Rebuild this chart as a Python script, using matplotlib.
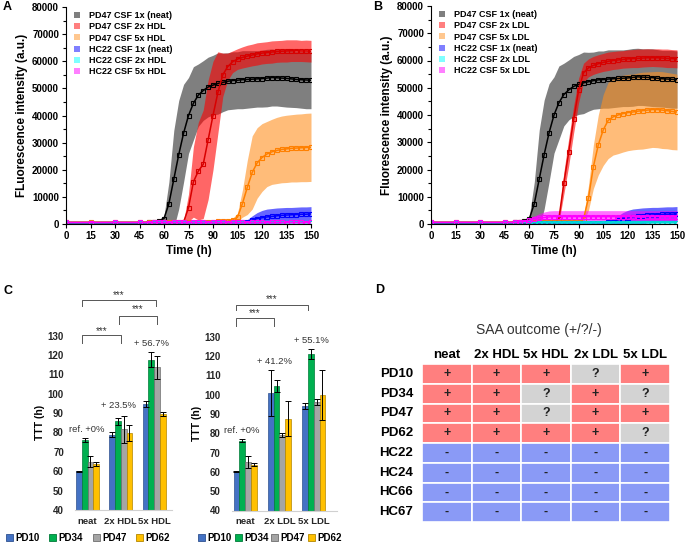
import numpy as np
import matplotlib
matplotlib.use('Agg')
import matplotlib.pyplot as plt
from matplotlib.lines import Line2D
from matplotlib.patches import Patch, Rectangle

plt.rcParams['font.family'] = ['Liberation Sans', 'DejaVu Sans']
plt.rcParams['font.weight'] = 'bold'
plt.rcParams['axes.labelweight'] = 'bold'

# ---------------- data: RT-QuIC kinetics (A, B) ----------------
t_h = [0, 15, 30, 45, 51, 54, 57, 60, 63, 66, 69, 72, 75, 78, 81, 84, 87, 90, 93,
       96, 99, 102, 105, 108, 111, 114, 117, 120, 123, 126, 129, 132, 135, 138,
       141, 144, 147, 150]

pd47_neat_mean = [500, 500, 500, 500, 600, 800, 1200, 2000, 7500, 16500, 25500, 33500,
                  40000, 44500, 47500, 49200, 50500, 51200, 51800, 52200, 52600, 52900,
                  53000, 53200, 53300, 53400, 53500, 53600, 53800, 54000, 53900, 53800,
                  53700, 53500, 53300, 53200, 53100, 53000]
pd47_neat_sd = [200, 200, 200, 200, 250, 300, 500, 1000, 8000, 18000, 20000, 18000,
                14000, 13500, 11500, 11000, 11000, 11000, 11300, 10800, 10500, 10600,
                10500, 10700, 10600, 10500, 10400, 10500, 10600, 10500, 10400, 10500,
                10600, 10500, 10400, 10500, 10600, 10500]

pd47_2xhdl_mean = [500, 500, 500, 500, 500, 500, 500, 500, 500, 500, 500, 700,
                   6000, 15500, 19500, 22000, 31000, 40000, 48500, 55000, 58000, 59800,
                   60800, 61400, 61900, 62300, 62700, 63000, 63200, 63400, 63600, 63700,
                   63800, 63900, 63900, 63800, 63800, 63700]
pd47_2xhdl_sd = [200, 200, 200, 200, 200, 200, 200, 200, 200, 200, 200, 500,
                 5000, 13000, 18000, 20000, 22000, 20000, 15000, 8000, 5000, 4000,
                 3800, 3900, 4000, 4000, 4100, 4000, 4000, 4100, 4000, 4000,
                 4100, 4000, 4000, 3900, 4000, 4000]

pd47_5xhdl_mean = [700, 700, 700, 700, 700, 700, 700, 700, 700, 700, 700, 750,
                   800, 800, 850, 850, 900, 900, 950, 1000, 1100, 1500,
                   2500, 7500, 13500, 19000, 22500, 24500, 25800, 26600, 27100, 27500,
                   27700, 27900, 28000, 28100, 28200, 28300]
pd47_5xhdl_sd = [200, 200, 200, 200, 200, 200, 200, 200, 200, 200, 200, 200,
                 200, 200, 200, 200, 200, 250, 250, 250, 300, 600,
                 1500, 5000, 10000, 13500, 13000, 12500, 12000, 12000, 12200, 12300,
                 12400, 12400, 12500, 12500, 12600, 12600]

hc22_neat_mean = [500, 500, 500, 500, 500, 500, 500, 500, 500, 500, 500, 500,
                  500, 500, 500, 500, 500, 500, 500, 500, 500, 500,
                  500, 600, 900, 1500, 2000, 2300, 2600, 2800, 3000, 3200,
                  3300, 3400, 3500, 3600, 3600, 3700]
hc22_neat_sd = [150, 150, 150, 150, 150, 150, 150, 150, 150, 150, 150, 150,
                150, 150, 150, 150, 150, 150, 150, 150, 150, 150,
                150, 300, 700, 1500, 2200, 2700, 2900, 2900, 2900, 2800,
                2800, 2700, 2700, 2700, 2700, 2700]

hc22_2xhdl_mean = [480, 470, 490, 480, 470, 480, 490, 480, 470, 480, 490, 480,
                   470, 480, 490, 480, 470, 480, 490, 480, 470, 480,
                   490, 480, 470, 480, 490, 480, 470, 480, 490, 480,
                   470, 480, 490, 480, 470, 480]
hc22_2xhdl_sd = [150, 150, 150, 150, 150, 150, 150, 150, 150, 150, 150, 150,
                 150, 150, 150, 150, 150, 150, 150, 150, 150, 150,
                 150, 150, 150, 150, 150, 150, 150, 150, 150, 150,
                 150, 150, 150, 150, 150, 150]

hc22_5xhdl_mean = [560, 550, 570, 560, 550, 560, 570, 560, 550, 560, 570, 560,
                   550, 560, 570, 560, 550, 560, 570, 560, 550, 560,
                   570, 560, 550, 560, 570, 560, 550, 560, 570, 560,
                   550, 560, 570, 560, 550, 560]
hc22_5xhdl_sd = [150, 150, 150, 150, 150, 150, 150, 150, 150, 150, 150, 150,
                 150, 150, 150, 150, 150, 150, 150, 150, 150, 150,
                 150, 150, 150, 150, 150, 150, 150, 150, 150, 150,
                 150, 150, 150, 150, 150, 150]

pd47_2xldl_mean = [500, 500, 500, 500, 500, 500, 500, 500, 500, 500, 500, 500,
                   600, 2000, 15000, 26500, 38500, 49000, 55500, 57300, 58200, 58800,
                   59300, 59700, 60000, 60200, 60400, 60600, 60700, 60800, 60900, 61000,
                   61000, 61000, 60900, 60800, 60700, 60600]
pd47_2xldl_sd = [200, 200, 200, 200, 200, 200, 200, 200, 200, 200, 200, 200,
                 300, 1500, 4000, 5000, 5000, 4500, 3500, 3300, 3300, 3300,
                 3300, 3400, 3300, 3300, 3200, 3300, 3300, 3400, 3300, 3300,
                 3200, 3300, 3300, 3400, 3300, 3300]

pd47_5xldl_mean = [700, 700, 700, 700, 700, 700, 700, 700, 700, 700, 700, 700,
                   700, 700, 700, 700, 700, 750, 1800, 9500, 21000, 29000,
                   34500, 38000, 39300, 40000, 40500, 40900, 41100, 41400, 41600, 41800,
                   42000, 42000, 41800, 41600, 41300, 41100]
pd47_5xldl_sd = [200, 200, 200, 200, 200, 200, 200, 200, 200, 200, 200, 200,
                 200, 200, 200, 200, 200, 250, 1000, 4500, 8000, 11000,
                 13000, 14000, 14000, 14200, 14100, 14000, 13900, 14000, 14100, 14000,
                 13900, 14000, 14100, 14000, 14000, 13900]

hc22_2xldl_mean = [480, 490, 480, 470, 480, 490, 480, 470, 480, 490, 480, 470,
                   480, 490, 480, 470, 480, 490, 480, 470, 480, 490,
                   480, 470, 480, 490, 480, 470, 480, 490, 480, 470,
                   480, 490, 480, 470, 480, 490]
hc22_2xldl_sd = [150, 150, 150, 150, 150, 150, 150, 150, 150, 150, 150, 150,
                 150, 150, 150, 150, 150, 150, 150, 150, 150, 150,
                 150, 150, 150, 150, 150, 150, 150, 150, 150, 150,
                 150, 150, 150, 150, 150, 150]

hc22_5xldl_mean = [600, 600, 600, 600, 600, 700, 900, 1300, 1700, 2100, 2400, 2600,
                   2700, 2700, 2700, 2700, 2700, 2700, 2700, 2700, 2700, 2700,
                   2700, 2700, 2700, 2700, 2700, 2700, 2700, 2700, 2700, 2700,
                   2700, 2700, 2700, 2700, 2700, 2700]
hc22_5xldl_sd = [200, 200, 200, 200, 200, 300, 500, 900, 1300, 1700, 2000, 2200,
                 2200, 2200, 2200, 2200, 2200, 2200, 2200, 2200, 2200, 2200,
                 2200, 2200, 2200, 2200, 2200, 2200, 2200, 2200, 2200, 2200,
                 2200, 2200, 2200, 2200, 2200, 2200]

labels_hdl = ['PD47 CSF 1x (neat)', 'PD47 CSF 2x HDL', 'PD47 CSF 5x HDL',
              'HC22 CSF 1x (neat)', 'HC22 CSF 2x HDL', 'HC22 CSF 5x HDL']
labels_ldl = ['PD47 CSF 1x (neat)', 'PD47 CSF 2x LDL', 'PD47 CSF 5x LDL',
              'HC22 CSF 1x (neat)', 'HC22 CSF 2x LDL', 'HC22 CSF 5x LDL']

# ---------------- data: TTT bars (C) ----------------
samples = ['PD10', 'PD34', 'PD47', 'PD62']
cats_hdl = ['neat', '2x HDL', '5x HDL']
cats_ldl = ['neat', '2x LDL', '5x LDL']
ttt_hdl = [[60, 78.8, 94.5], [76.2, 85.7, 117.6], [65, 81.7, 113.6], [63.8, 79.7, 89.7]]
err_hdl = [[0.3, 1.3, 1.5], [0.9, 2.0, 4.0], [3.0, 7.0, 6.0], [1.0, 4.3, 1.0]]
ttt_ldl = [[60, 101, 94], [76.2, 104.5, 121.2], [65, 79, 96.2], [63.8, 87.5, 100]]
err_ldl = [[0.3, 12, 1.5], [0.9, 3.3, 2.5], [3.0, 1.0, 1.5], [1.0, 9.0, 13]]
pct_hdl = ['ref. +0%', '+ 23.5%', '+ 56.7%']
pct_ldl = ['ref. +0%', '+ 41.2%', '+ 55.1%']

# ---------------- data: SAA outcome table (D) ----------------
table_rows = ['PD10', 'PD34', 'PD47', 'PD62', 'HC22', 'HC24', 'HC66', 'HC67']
table_cols = ['neat', '2x HDL', '5x HDL', '2x LDL', '5x LDL']
outcome = [['+', '+', '+', '?', '+'],
           ['+', '+', '?', '+', '?'],
           ['+', '+', '?', '+', '+'],
           ['+', '+', '+', '+', '?'],
           ['-', '-', '-', '-', '-'],
           ['-', '-', '-', '-', '-'],
           ['-', '-', '-', '-', '-'],
           ['-', '-', '-', '-', '-']]

W, H = 685, 550
fig = plt.figure(figsize=(W / 100, H / 100), dpi=100)


def box(l, t, r, b):
    return fig.add_axes([l / W, 1 - b / H, (r - l) / W, (b - t) / H])


line_colors = ['black', '#d80000', '#ff8000', '#0000ff', '#00d8d8', '#ff00ff']
band_colors = ['black', '#ff0000', '#ff9020', '#0000ff', '#00ffff', '#ff00ff']
band_alpha = [0.5, 0.6, 0.6, 0.6, 0.5, 0.55]


def kinetics(ax, series, labels, ylabel, leg_x, leg_y):
    for (m, s), c, a in zip(series, band_colors, band_alpha):
        m, s = np.array(m), np.array(s)
        ax.fill_between(t_h, m - s, m + s, color=c, alpha=a, lw=0)
    for (m, s), c in zip(series, line_colors):
        ax.plot(t_h, m, color=c, lw=1.1, marker='s', ms=3.3, mfc='none', mew=0.8)
    ax.set_xlim(0, 150)
    ax.set_ylim(0, 80000)
    ax.set_xticks(range(0, 151, 15))
    ax.set_yticks(range(0, 80001, 10000))
    ax.set_yticks(range(5000, 80000, 10000), minor=True)
    ax.tick_params(labelsize=7, length=3, width=0.8, pad=2)
    ax.tick_params(which='minor', length=2, width=0.8)
    for sp in ['top', 'right']:
        ax.spines[sp].set_visible(False)
    ax.set_xlabel('Time (h)', fontsize=8.5, labelpad=3)
    ax.set_ylabel(ylabel, fontsize=8.5, labelpad=3)
    handles = [Line2D([], [], ls='none', marker='s', ms=4.5, color=c, alpha=0.5, mew=0)
               for c in band_colors]
    ax.legend(handles, labels, loc='upper left', bbox_to_anchor=(leg_x / W, 1 - leg_y / H),
              bbox_transform=fig.transFigure, frameon=False, fontsize=6.5,
              borderpad=0, borderaxespad=0, handlelength=0.8, handletextpad=1.0,
              labelspacing=0.25)


axA = box(66, 7, 311, 224)
kinetics(axA, [(pd47_neat_mean, pd47_neat_sd), (pd47_2xhdl_mean, pd47_2xhdl_sd),
               (pd47_5xhdl_mean, pd47_5xhdl_sd), (hc22_neat_mean, hc22_neat_sd),
               (hc22_2xhdl_mean, hc22_2xhdl_sd), (hc22_5xhdl_mean, hc22_5xhdl_sd)],
         labels_hdl, 'FLuorescence intensity (a.u.)', 73, 11)

axB = box(431, 6, 677, 224)
kinetics(axB, [(pd47_neat_mean, pd47_neat_sd), (pd47_2xldl_mean, pd47_2xldl_sd),
               (pd47_5xldl_mean, pd47_5xldl_sd), (hc22_neat_mean, hc22_neat_sd),
               (hc22_2xldl_mean, hc22_2xldl_sd), (hc22_5xldl_mean, hc22_5xldl_sd)],
         labels_ldl, 'Fluorescence intensity (a.u.)', 438, 10)

bar_colors = ['#4472c4', '#00b050', '#a5a5a5', '#ffc000']
bar_edges = ['#2f528f', '#007a38', '#6e6e6e', '#b38600']


def ttt_bars(ax, cats, vals, errs, pcts, pct_pos, brackets, unit_px):
    w = 5.75 / unit_px
    x = np.arange(len(cats))
    for i, (v, e) in enumerate(zip(vals, errs)):
        ax.bar(x + (i - 1.5) * w, v, w, color=bar_colors[i], edgecolor=bar_edges[i],
               lw=0.5, yerr=e, error_kw=dict(ecolor='black', elinewidth=0.7,
                                               capsize=2.2, capthick=0.7))
    ax.set_ylim(40, 130)
    ax.set_yticks(range(40, 131, 10))
    ax.set_xticks(x)
    ax.set_xticklabels(cats)
    ax.tick_params(axis='y', length=0, pad=8, labelsize=7, labelcolor='#262626')
    ax.tick_params(axis='x', length=0, pad=5, labelsize=6.8, labelcolor='#262626')
    for sp in ['top', 'right', 'left']:
        ax.spines[sp].set_visible(False)
    ax.spines['bottom'].set_color('#d0d0d0')
    ax.set_ylabel('TTT (h)', fontsize=7.5, labelpad=2)
    for txt, (px, py) in zip(pcts, pct_pos):
        ax.text(px, py, txt, ha='center', va='center', fontsize=6.8,
                fontweight='normal', color='#333333')
    for x0, x1, ytop, yleg, ystar in brackets:
        ax.plot([x0, x0, x1, x1], [yleg, ytop, ytop, yleg], color='#555555', lw=0.7,
                clip_on=False)
        ax.text((x0 + x1) / 2, ystar, '***', ha='center', va='center', fontsize=7,
                fontweight='normal', color='#333333', clip_on=False)


axC1 = box(75, 335.5, 172, 510)
axC1.set_xlim(-0.375, 2.535)
ttt_bars(axC1, cats_hdl, ttt_hdl, err_hdl, pct_hdl,
         [(-0.015, 81.4), (0.92, 93.8), (1.93, 125.7)],
         [(-0.156, 0.997, 130.2, 126.2, 132.4),
          (0.93, 2.08, 140.0, 136.1, 143.4),
          (-0.156, 2.05, 148.1, 145.2, 151.1)], 33.33)

axC2 = box(231.7, 336.8, 337, 510.5)
axC2.set_xlim(-0.387, 2.674)
ttt_bars(axC2, cats_ldl, ttt_ldl, err_ldl, pct_ldl,
         [(-0.09, 81.3), (0.87, 117.0), (1.94, 128.0)],
         [(-0.27, 0.85, 139.6, 135.6, 142.2),
          (-0.27, 1.84, 146.5, 143.9, 149.5)], 34.4)

for cx, colsp in [(88, 1.0), (270, 0.3)]:
    fig.legend([Patch(facecolor=c, edgecolor=e, lw=0.6) for c, e in zip(bar_colors, bar_edges)],
               samples, loc='center', bbox_to_anchor=(cx / W, 1 - 538 / H), ncol=4,
               frameon=False, fontsize=7, handlelength=0.7, handleheight=0.7,
               handletextpad=0.25, columnspacing=colsp, borderpad=0)

# ---------------- D: outcome table ----------------
cell_colors = {'+': '#ff7f7f', '?': '#d3d3d3', '-': '#8a9af6'}
axD = box(422, 364, 670, 522)
axD.set_xlim(0, 5)
axD.set_ylim(8, 0)
axD.axis('off')
for i, row in enumerate(outcome):
    for j, val in enumerate(row):
        axD.add_patch(Rectangle((j, i), 1, 1, facecolor=cell_colors[val],
                                edgecolor='white', lw=1.2))
        axD.text(j + 0.5, i + 0.5, val, ha='center', va='center', fontsize=9,
                 color='#222222')
for j, c in enumerate(table_cols):
    axD.text(j + 0.5, -0.45, c, ha='center', va='center', fontsize=9.5, clip_on=False)
for i, r in enumerate(table_rows):
    axD.text(-0.18, i + 0.5, r, ha='right', va='center', fontsize=9.5, clip_on=False)
axD.text(2.36, -1.72, 'SAA outcome (+/?/-)', ha='center', va='center', fontsize=10,
         fontweight='normal', color='#333333', clip_on=False)

for letter, lx, ly in [('A', 3, 1), ('B', 373, 1), ('C', 3, 285), ('D', 375, 284)]:
    fig.text(lx / W, 1 - ly / H, letter, fontsize=9, fontweight='bold', va='top')

fig.savefig('out.png', dpi=100)
